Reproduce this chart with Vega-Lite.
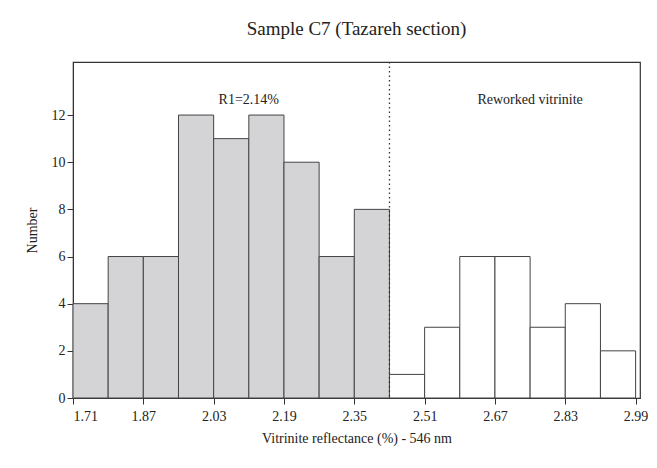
{
  "$schema": "https://vega.github.io/schema/vega-lite/v6.json",
  "autosize": "none",
  "width": 567,
  "height": 336,
  "padding": {"left": 73, "top": 62, "right": 17, "bottom": 70},
  "background": "white",
  "title": {"text": "Sample C7 (Tazareh section)", "font": "Liberation Serif", "fontSize": 19, "fontWeight": "normal", "color": "#222", "offset": 22},
  "config": {
    "view": {"stroke": "#333", "strokeWidth": 1.2},
    "axis": {"labelFont": "Liberation Serif", "titleFont": "Liberation Serif", "labelFontSize": 14, "titleFontSize": 14, "titleFontWeight": "normal", "labelColor": "#222", "titleColor": "#222", "domainColor": "#333", "tickColor": "#333", "grid": false}
  },
  "datasets": {
    "bars": [
      {"start": 1.71, "end": 1.79, "count": 4, "group": "main"},
      {"start": 1.79, "end": 1.87, "count": 6, "group": "main"},
      {"start": 1.87, "end": 1.95, "count": 6, "group": "main"},
      {"start": 1.95, "end": 2.03, "count": 12, "group": "main"},
      {"start": 2.03, "end": 2.11, "count": 11, "group": "main"},
      {"start": 2.11, "end": 2.19, "count": 12, "group": "main"},
      {"start": 2.19, "end": 2.27, "count": 10, "group": "main"},
      {"start": 2.27, "end": 2.35, "count": 6, "group": "main"},
      {"start": 2.35, "end": 2.43, "count": 8, "group": "main"},
      {"start": 2.43, "end": 2.51, "count": 1, "group": "reworked"},
      {"start": 2.51, "end": 2.59, "count": 3, "group": "reworked"},
      {"start": 2.59, "end": 2.67, "count": 6, "group": "reworked"},
      {"start": 2.67, "end": 2.75, "count": 6, "group": "reworked"},
      {"start": 2.75, "end": 2.83, "count": 3, "group": "reworked"},
      {"start": 2.83, "end": 2.91, "count": 4, "group": "reworked"},
      {"start": 2.91, "end": 2.99, "count": 2, "group": "reworked"}
    ],
    "labels": [
      {"x": 2.11, "y": 12.65, "label": "R1=2.14%"},
      {"x": 2.75, "y": 12.65, "label": "Reworked vitrinite"}
    ],
    "divider": [{"x": 2.43}]
  },
  "layer": [
    {
      "data": {"name": "bars"},
      "mark": {"type": "rect", "stroke": "#444", "strokeWidth": 1},
      "encoding": {
        "x": {"field": "start", "type": "quantitative", "scale": {"domain": [1.71, 3.0], "nice": false, "zero": false},
          "axis": {"title": "Vitrinite reflectance (%) - 546 nm", "titlePadding": 8,
            "values": [1.71,1.79,1.87,1.95,2.03,2.11,2.19,2.27,2.35,2.43,2.51,2.59,2.67,2.75,2.83,2.91,2.99],
            "labelExpr": "round((datum.value-1.71)/0.08) % 2 == 0 ? format(datum.value, '.2f') : ''",
            "tickSize": {"expr": "round((datum.value-1.71)/0.08) % 2 == 0 ? 6 : 4"},
            "labelPadding": 5}},
        "x2": {"field": "end"},
        "y": {"field": "count", "type": "quantitative", "scale": {"domain": [0, 14.25], "nice": false},
          "axis": {"title": "Number", "titlePadding": 12,
            "values": [0,1,2,3,4,5,6,7,8,9,10,11,12,13],
            "labelExpr": "datum.value % 2 == 0 ? datum.value : ''",
            "tickSize": {"expr": "datum.value % 2 == 0 ? 6 : 3"}}},
        "y2": {"datum": 0},
        "fill": {"field": "group", "type": "nominal", "scale": {"domain": ["main", "reworked"], "range": ["#d4d4d6", "#ffffff"]}, "legend": null}
      }
    },
    {
      "data": {"name": "divider"},
      "mark": {"type": "rule", "strokeDash": [1.5, 3], "strokeWidth": 1.3, "color": "#333"},
      "encoding": {"x": {"field": "x", "type": "quantitative"}}
    },
    {
      "data": {"name": "labels"},
      "mark": {"type": "text", "font": "Liberation Serif", "fontSize": 14, "color": "#222"},
      "encoding": {
        "x": {"field": "x", "type": "quantitative"},
        "y": {"field": "y", "type": "quantitative"},
        "text": {"field": "label"}
      }
    }
  ]
}
